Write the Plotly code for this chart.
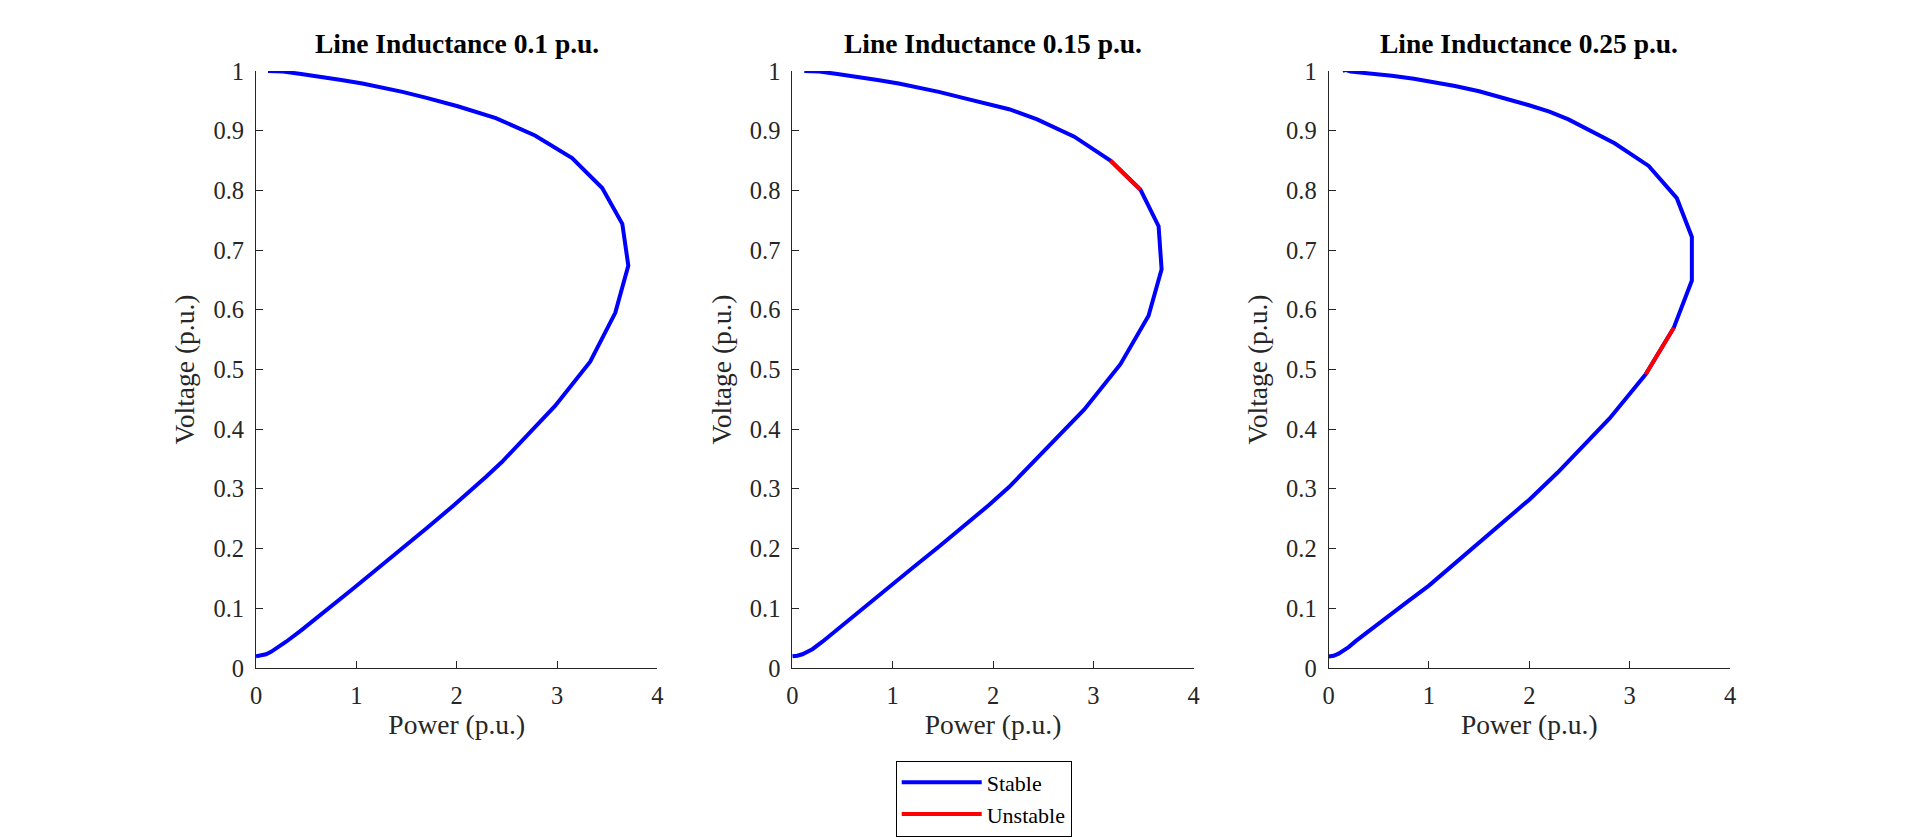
import plotly.graph_objects as go
from plotly.subplots import make_subplots

# P-V curves, one per line inductance
titles = ['Line Inductance 0.1 p.u.', 'Line Inductance 0.15 p.u.', 'Line Inductance 0.25 p.u.']

p_01 = [0.12, 0.27, 0.45, 0.63, 0.85, 1.06, 1.25, 1.46, 1.7, 2.01, 2.39, 2.78, 3.15, 3.45, 3.65,
        3.71, 3.58, 3.33, 2.98, 2.59, 2.45, 2.29, 2.13, 1.96, 1.7, 1.46, 1.2, 0.96, 0.8, 0.63,
        0.45, 0.3, 0.2, 0.15, 0.1, 0.05, 0.0]
v_01 = [1.0, 0.999, 0.995, 0.991, 0.985, 0.979, 0.973, 0.965, 0.955, 0.941, 0.921, 0.892, 0.854, 0.804, 0.744,
        0.674, 0.595, 0.513, 0.439, 0.368, 0.345, 0.32, 0.296, 0.271, 0.234, 0.2, 0.165, 0.132, 0.11, 0.087,
        0.063, 0.044, 0.0315, 0.027, 0.023, 0.0205, 0.0195]

p_015 = [0.12, 0.27, 0.45, 0.63, 0.85, 1.06, 1.25, 1.46, 1.7, 1.95, 2.16, 2.44, 2.81, 3.17, 3.47,
         3.65, 3.68, 3.55, 3.27, 2.91, 2.52, 2.34, 2.16, 1.96, 1.7, 1.46, 1.2, 1.0, 0.8, 0.63,
         0.45, 0.3, 0.2, 0.15, 0.1, 0.05, 0.0]
v_015 = [1.0, 0.999, 0.995, 0.991, 0.985, 0.979, 0.973, 0.965, 0.955, 0.945, 0.936, 0.919, 0.890, 0.850, 0.801,
         0.740, 0.668, 0.590, 0.509, 0.433, 0.366, 0.333, 0.303, 0.273, 0.236, 0.203, 0.168, 0.14, 0.112, 0.088,
         0.064, 0.044, 0.0315, 0.027, 0.023, 0.0205, 0.0195]

p_025 = [0.14, 0.17, 0.22, 0.45, 0.63, 0.85, 1.06, 1.26, 1.5, 1.75, 1.99, 2.2, 2.39, 2.85, 3.19,
         3.47, 3.62, 3.62, 3.44, 3.16, 2.80, 2.55, 2.28, 2.0, 1.75, 1.5, 1.25, 1.0, 0.8, 0.6,
         0.45, 0.27, 0.2, 0.15, 0.1, 0.05, 0.0]
v_025 = [1.0, 1.002, 0.999, 0.996, 0.992, 0.987, 0.981, 0.975, 0.966, 0.955, 0.943, 0.932, 0.919, 0.879, 0.841,
         0.787, 0.722, 0.649, 0.570, 0.492, 0.418, 0.374, 0.327, 0.282, 0.246, 0.21, 0.174, 0.138, 0.113, 0.088,
         0.068, 0.045, 0.035, 0.029, 0.024, 0.0205, 0.0193]

powers = [p_01, p_015, p_025]
voltages = [v_01, v_015, v_025]
# first and last point index of the unstable stretch (None = none)
unstable = [None, (13, 14), (18, 19)]

axis_col = '#262626'
serif = 'Liberation Serif'

fig = make_subplots(rows=1, cols=3, horizontal_spacing=0.0915)

for i in range(3):
    col = i + 1
    fig.add_trace(go.Scatter(x=powers[i], y=voltages[i], mode='lines', name='Stable',
                             line=dict(color='#0000ff', width=4),
                             showlegend=(i == 0)), row=1, col=col)
    if unstable[i]:
        a, b = unstable[i]
        fig.add_trace(go.Scatter(x=powers[i][a:b + 1], y=voltages[i][a:b + 1], mode='lines', name='Unstable',
                                 line=dict(color='#ff0000', width=4),
                                 showlegend=(i == 1)), row=1, col=col)
    fig.update_xaxes(range=[0, 4], dtick=1, title=dict(text='Power (p.u.)', standoff=6,
                     font=dict(family=serif, size=27.5, color=axis_col)), row=1, col=col)
    fig.update_yaxes(range=[0, 1], dtick=0.1, title=dict(text='Voltage (p.u.)', standoff=10,
                     font=dict(family=serif, size=27.5, color=axis_col)), row=1, col=col)

fig.update_xaxes(showgrid=False, zeroline=False, showline=True, linecolor=axis_col, linewidth=1,
                 ticks='inside', ticklen=7, tickcolor=axis_col, ticklabelstandoff=6,
                 tickfont=dict(family=serif, size=24.5, color=axis_col), automargin=False)
fig.update_yaxes(showgrid=False, zeroline=False, showline=True, linecolor=axis_col, linewidth=1,
                 ticks='inside', ticklen=7, tickcolor=axis_col, ticklabelstandoff=6,
                 tickfont=dict(family=serif, size=24.5, color=axis_col), automargin=False)

# subplot titles
for i in range(3):
    xa = fig.layout['xaxis' if i == 0 else 'xaxis%d' % (i + 1)]
    fig.add_annotation(text='<b>' + titles[i] + '</b>', xref='paper', yref='paper',
                       x=(xa.domain[0] + xa.domain[1]) / 2, y=1.017, xanchor='center', yanchor='bottom',
                       showarrow=False, font=dict(family=serif, size=27.5, color='black'))

fig.update_layout(width=1905, height=840, paper_bgcolor='white', plot_bgcolor='white',
                  margin=dict(l=248, r=183, t=63, b=177),
                  legend=dict(x=0.434, y=-0.155, xanchor='left', yanchor='top',
                              bgcolor='white', bordercolor='black', borderwidth=1,
                              itemwidth=80, tracegroupgap=0, traceorder='normal',
                              font=dict(family=serif, size=22, color='black')))

fig.write_html('out.html')
